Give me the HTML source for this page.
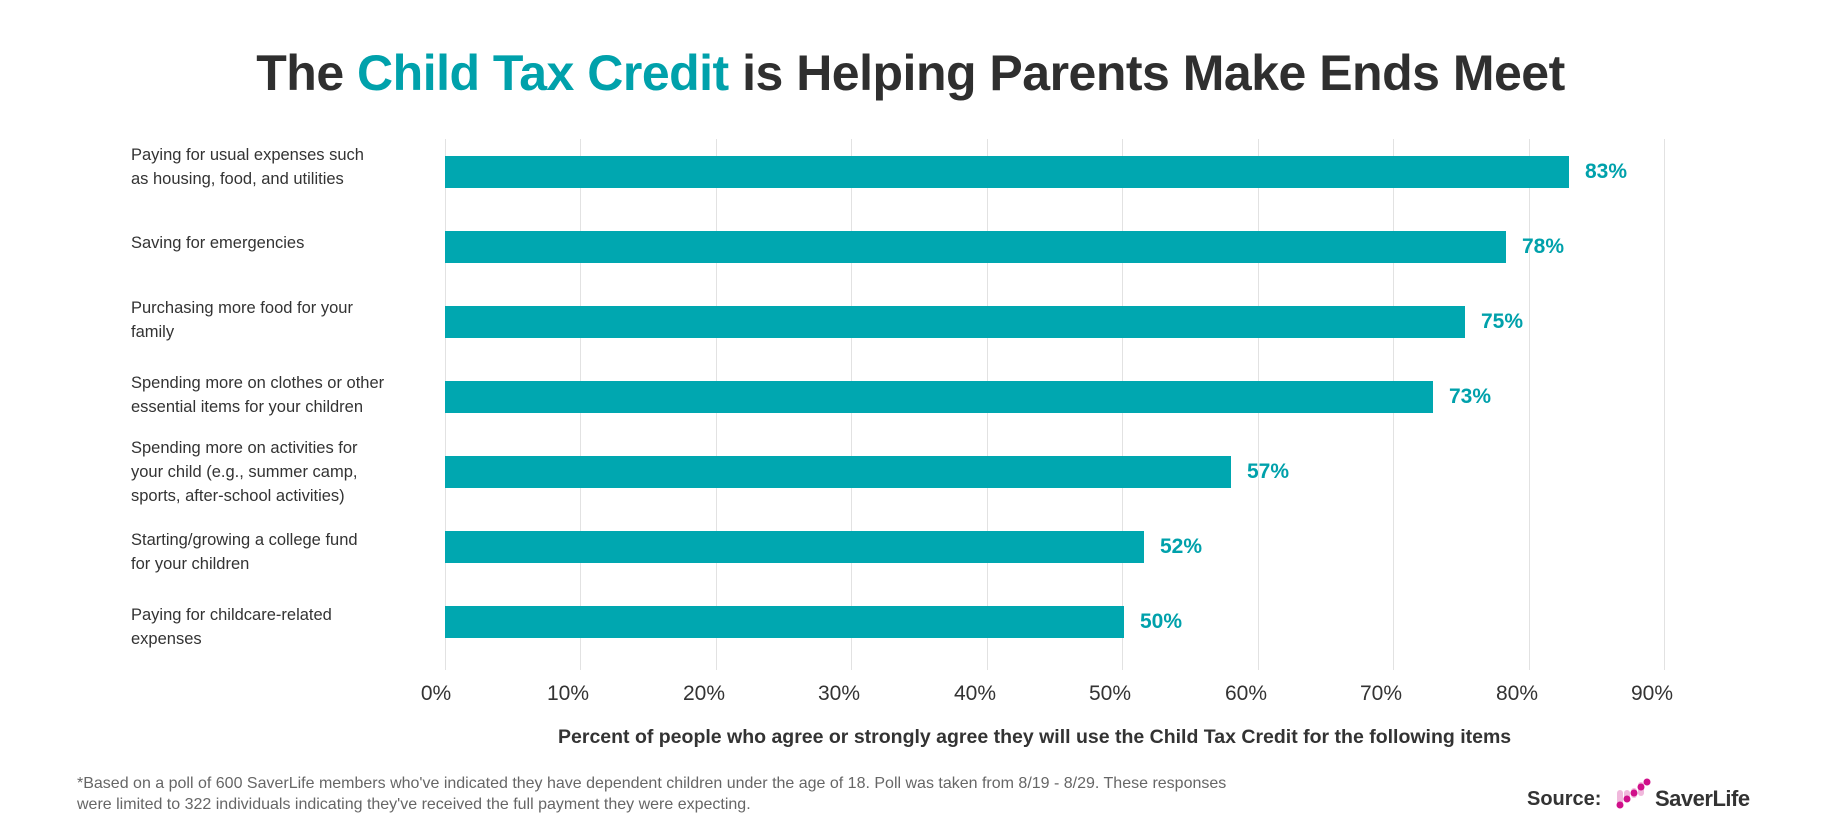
<!DOCTYPE html>
<html><head><meta charset="utf-8"><style>
body{margin:0;background:#fff;font-family:"Liberation Sans",sans-serif;}
#c{position:relative;width:1821px;height:835px;overflow:hidden;background:#fff}
.t{position:absolute;white-space:nowrap}
.g{position:absolute;top:139px;height:531px;width:1px;background:#e2e2e2}
.bar{position:absolute;left:445px;height:32px;background:#00a7b0}
.v{position:absolute;font-weight:bold;color:#00a1ab;font-size:21px;line-height:24px}
.lab{position:absolute;left:131px;font-size:16.5px;line-height:24px;color:#333;width:300px}
.tk{position:absolute;top:682px;font-size:21px;color:#333;width:80px;text-align:center}
</style></head><body><div id="c">
<div class="t" style="left:0;width:1821px;text-align:center;top:44px;font-size:50px;font-weight:bold;color:#2f2f2f;letter-spacing:-0.5px">The <span style="color:#00a1ab">Child Tax Credit</span> is Helping Parents Make Ends Meet</div>
<div class="g" style="left:445px"></div><div class="g" style="left:580px"></div><div class="g" style="left:716px"></div><div class="g" style="left:851px"></div><div class="g" style="left:987px"></div><div class="g" style="left:1122px"></div><div class="g" style="left:1258px"></div><div class="g" style="left:1393px"></div><div class="g" style="left:1529px"></div><div class="g" style="left:1664px"></div>
<div class="bar" style="top:156px;width:1124px"></div><div class="v" style="top:160px;left:1585px">83%</div>
<div class="bar" style="top:231px;width:1061px"></div><div class="v" style="top:235px;left:1522px">78%</div>
<div class="bar" style="top:306px;width:1020px"></div><div class="v" style="top:310px;left:1481px">75%</div>
<div class="bar" style="top:381px;width:988px"></div><div class="v" style="top:385px;left:1449px">73%</div>
<div class="bar" style="top:456px;width:786px"></div><div class="v" style="top:460px;left:1247px">57%</div>
<div class="bar" style="top:531px;width:699px"></div><div class="v" style="top:535px;left:1160px">52%</div>
<div class="bar" style="top:606px;width:679px"></div><div class="v" style="top:610px;left:1140px">50%</div>
<div class="lab" style="top:143px">Paying for usual expenses such<br>as housing, food, and utilities</div>
<div class="lab" style="top:231px">Saving for emergencies</div>
<div class="lab" style="top:296px">Purchasing more food for your<br>family</div>
<div class="lab" style="top:371px">Spending more on clothes or other<br>essential items for your children</div>
<div class="lab" style="top:436px">Spending more on activities for<br>your child (e.g., summer camp,<br>sports, after-school activities)</div>
<div class="lab" style="top:528px">Starting/growing a college fund<br>for your children</div>
<div class="lab" style="top:603px">Paying for childcare-related<br>expenses</div>
<div class="tk" style="left:396px">0%</div><div class="tk" style="left:528px">10%</div><div class="tk" style="left:664px">20%</div><div class="tk" style="left:799px">30%</div><div class="tk" style="left:935px">40%</div><div class="tk" style="left:1070px">50%</div><div class="tk" style="left:1206px">60%</div><div class="tk" style="left:1341px">70%</div><div class="tk" style="left:1477px">80%</div><div class="tk" style="left:1612px">90%</div>
<div class="t" style="left:558px;top:726px;font-size:19.5px;font-weight:bold;color:#333">Percent of people who agree or strongly agree they will use the Child Tax Credit for the following items</div>
<div class="t" style="left:77px;top:773px;font-size:16px;line-height:21px;color:#666">*Based on a poll of 600 SaverLife members who've indicated they have dependent children under the age of 18. Poll was taken from 8/19 - 8/29. These responses<br>were limited to 322 individuals indicating they've received the full payment they were expecting.</div>
<div class="t" style="left:1527px;top:788px;font-size:20px;font-weight:bold;color:#333">Source:</div>
<svg style="position:absolute;left:1615px;top:778px" width="40" height="34">
<rect x="2" y="12" width="6" height="18" rx="3" fill="#f0b8dc"/><rect x="9" y="12" width="6" height="12" rx="3" fill="#f0b8dc"/><rect x="16" y="10" width="6" height="10" rx="3" fill="#f0b8dc"/><rect x="23" y="4" width="6" height="14" rx="3" fill="#f0b8dc"/>
<circle cx="5" cy="27" r="3.5" fill="#d0108a"/><circle cx="12" cy="21" r="3.5" fill="#d0108a"/><circle cx="19" cy="15" r="3.5" fill="#d0108a"/><circle cx="26" cy="9" r="3.5" fill="#d0108a"/><circle cx="32" cy="4" r="3.5" fill="#d0108a"/></svg>
<div class="t" style="left:1655px;top:786px;font-size:22px;font-weight:bold;color:#333;letter-spacing:-0.5px">SaverLife</div>
</div></body></html>
